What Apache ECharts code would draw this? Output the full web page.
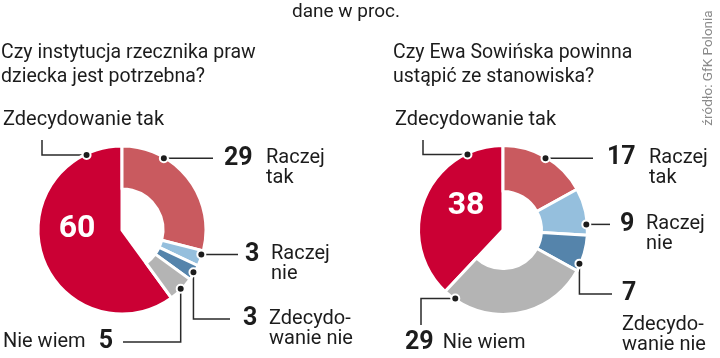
<!DOCTYPE html>
<html><head><meta charset="utf-8">
<script src="https://cdn.jsdelivr.net/npm/echarts@6/dist/echarts.min.js"></script>
<style>html,body{margin:0;padding:0;background:#fff}#c{width:720px;height:358px}</style>
</head><body><div id="c"></div>
<script>
// ---- data ----
const categories = ['Raczej tak', 'Raczej nie', 'Zdecydowanie nie', 'Nie wiem', 'Zdecydowanie tak'];
const labelTexts = ['Raczej\ntak', 'Raczej\nnie', 'Zdecydo-\nwanie nie', 'Nie wiem', 'Zdecydowanie tak'];
const leftValues = [29, 3, 3, 5, 60];
const rightValues = [17, 9, 7, 29, 38];
const leftQuestion = 'Czy instytucja rzecznika praw\ndziecka jest potrzebna?';
const rightQuestion = 'Czy Ewa Sowińska powinna\nustąpić ze stanowiska?';
const unitNote = 'dane w proc.';
const sourceNote = 'źródło: GfK Polonia';

// ---- styles / layout ----
const colors = ['#C95A5F', '#95BFDD', '#5584AB', '#B4B4B4', '#CB0034'];
const INK = '#1c1c1c';
const FONT = 'Roboto';
const NAME_SIZE = 20;
const LH = 20;
const G = [
  { cx: 122, cy: 230, R: 84, r0: 41, big: { x: 77, y: 229 } },
  { cx: 503, cy: 230, R: 84.5, r0: 38.5, big: { x: 466, y: 206 } }
];
const LAYOUT = [
  [
    { frac: 0.29, kind: 'num', path: [[213, null]], tx: 224, ty: null },
    { frac: 0.25, kind: 'num', path: [[238, null]], tx: 245, ty: null },
    { frac: 0.5, kind: 'num', path: [[null, 319], [230, 319]], tx: 243, ty: 319 },
    { frac: 0.5, kind: 'nameNum', path: [[null, 342], [123, 342]], tx: 113, ty: 342 },
    { frac: 0.883, kind: 'name', path: [[42, null], [42, 140]], tx: 3, ty: 120 }
  ],
  [
    { frac: 0.5, kind: 'num', path: [[593, null]], tx: 607, ty: null },
    { frac: 0.77, kind: 'num', path: [[610, null]], tx: 620, ty: null },
    { frac: 0.8, kind: 'stack', path: [[null, 294], [612, 294]], tx: 622, ty: 294 },
    { frac: 0.92, kind: 'numName', path: [[421, null], [421, 325]], tx: 405, ty: 343 },
    { frac: 0.816, kind: 'name', path: [[423, null], [423, 140]], tx: 395, ty: 120 }
  ]
];

const numStyle = { fontFamily: FONT, fontSize: 25, fontWeight: 'bold', color: INK, lineHeight: LH };
const RICH = {
  n: { fontFamily: FONT, fontSize: NAME_SIZE, color: INK, lineHeight: LH },
  v: numStyle,
  v1: Object.assign({}, numStyle, { width: 26 }),
  v2: Object.assign({}, numStyle, { width: 42 }),
  vt: Object.assign({}, numStyle, { lineHeight: 42 }),
  s1: { width: 26, lineHeight: LH },
  s2: { width: 42, lineHeight: LH },
  g: { width: 13 },
  g2: { width: 9 }
};

function total(values) { return values.reduce((a, b) => a + b, 0); }
function dotAngle(values, i, frac) {
  let s = 0;
  for (let k = 0; k < i; k++) s += values[k];
  return s + frac * values[i];
}
function dotPx(g, ang, tot) {
  const a = ang / tot * 2 * Math.PI;
  const r = g.R - 1;
  return [g.cx + r * Math.sin(a), g.cy - r * Math.cos(a)];
}

function labelFormatter(ci) {
  return function (p) {
    const L = LAYOUT[ci][p.dataIndex];
    const parts = labelTexts[p.dataIndex].split('\n');
    const v = p.value;
    const two = String(v).length > 1;
    const w = two ? 'v2' : 'v1', s = two ? 's2' : 's1';
    switch (L.kind) {
      case 'name': return '{n|' + parts.join(' ') + '}';
      case 'num': return '{' + w + '|' + v + '}{n|' + parts[0] + '}' + (parts[1] ? '\n{' + s + '|}{n|' + parts[1] + '}' : '');
      case 'stack': return '{vt|' + v + '}\n' + parts.map(t => '{n|' + t + '}').join('\n');
      case 'nameNum': return '{n|' + parts[0] + '}{g|}{v|' + v + '}';
      case 'numName': return '{v|' + v + '}{g2|}{n|' + parts[0] + '}';
    }
  };
}
function labelLayoutFor(ci, values) {
  const tot = total(values);
  return function (p) {
    const L = LAYOUT[ci][p.dataIndex];
    const d = dotPx(G[ci], dotAngle(values, p.dataIndex, L.frac), tot);
    const pts = [d].concat(L.path.map(q => [q[0] == null ? d[0] : q[0], q[1] == null ? d[1] : q[1]]));
    const ty = L.ty == null ? d[1] : L.ty;
    let y, va = 'top';
    const align = L.kind === 'nameNum' ? 'right' : 'left';
    if (L.kind === 'name') { y = ty; va = 'middle'; }
    else if (L.kind === 'stack') { y = ty - 21; }
    else { y = ty - LH / 2; }
    return { x: L.tx, y: y, align: align, verticalAlign: va, labelLinePoints: pts };
  };
}

function fullPie(ci, values) {
  const g = G[ci];
  return {
    type: 'pie', radius: [0, g.R], center: [g.cx, g.cy], startAngle: 90, clockwise: true,
    silent: true, animation: false, avoidLabelOverlap: false,
    itemStyle: { borderColor: '#fff', borderWidth: 3 },
    label: { show: false },
    labelLine: { show: false },
    data: values.map((v, i) => i === 4
      ? { name: categories[i], value: v, itemStyle: { color: colors[i] },
          label: { show: true, position: 'inside', formatter: '{c}', color: '#fff', fontSize: 32, fontWeight: 'bold', fontFamily: FONT } }
      : { name: categories[i], value: v, itemStyle: { color: 'transparent', borderWidth: 0 } }),
    labelLayout: function (p) {
      return p.dataIndex === 4 ? { x: g.big.x, y: g.big.y, align: 'center', verticalAlign: 'middle' } : {};
    }
  };
}
function donut(ci, values) {
  const g = G[ci];
  return {
    type: 'pie', radius: [g.r0, g.R], center: [g.cx, g.cy], startAngle: 90, clockwise: true,
    silent: true, animation: false, avoidLabelOverlap: false,
    itemStyle: { borderColor: '#fff', borderWidth: 3 },
    label: { show: true, position: 'outside', formatter: labelFormatter(ci), rich: RICH, color: INK, overflow: 'none' },
    labelLine: { show: true, length: 10, length2: 10, smooth: false, lineStyle: { color: '#2a2a2a', width: 1.5 } },
    labelLayout: labelLayoutFor(ci, values),
    data: values.map((v, i) => ({
      name: categories[i], value: v,
      itemStyle: i === 4 ? { color: 'transparent', borderWidth: 0 } : { color: colors[i] }
    }))
  };
}
function dots(ci, values) {
  const g = G[ci];
  return {
    type: 'scatter', coordinateSystem: 'polar', polarIndex: ci, silent: true, animation: false, z: 5,
    symbol: 'circle', symbolSize: 8,
    itemStyle: { color: INK, borderColor: '#fff', borderWidth: 2, opacity: 1 },
    data: values.map((v, i) => [g.R - 1, dotAngle(values, i, LAYOUT[ci][i].frac)])
  };
}

const chart = echarts.init(document.getElementById('c'), null, { renderer: 'canvas' });
chart.setOption({
  backgroundColor: '#fff',
  animation: false,
  polar: G.map(g => ({ center: [g.cx, g.cy], radius: g.R })),
  angleAxis: [0, 1].map(i => ({ polarIndex: i, type: 'value', min: 0, max: total(i ? rightValues : leftValues), startAngle: 90, clockwise: true, show: false })),
  radiusAxis: G.map((g, i) => ({ polarIndex: i, type: 'value', min: 0, max: g.R, show: false })),
  graphic: [
    { type: 'text', x: 346, y: 12, style: { text: unitNote, fontSize: 19, fontFamily: FONT, fill: INK, align: 'center', verticalAlign: 'middle' } },
    { type: 'text', x: 1, y: 40.5, style: { text: leftQuestion, fontSize: 19.5, fontFamily: FONT, fill: INK, lineHeight: 24.5, align: 'left', verticalAlign: 'top' } },
    { type: 'text', x: 393, y: 40.5, style: { text: rightQuestion, fontSize: 19.5, fontFamily: FONT, fill: INK, lineHeight: 24.5, align: 'left', verticalAlign: 'top' } },
    { type: 'text', x: 709, y: 68, rotation: Math.PI / 2, style: { text: sourceNote, fontSize: 13.5, fontFamily: FONT, fill: '#8a8a8a', align: 'center', verticalAlign: 'middle' } }
  ],
  series: [
    fullPie(0, leftValues), donut(0, leftValues), dots(0, leftValues),
    fullPie(1, rightValues), donut(1, rightValues), dots(1, rightValues)
  ]
});
</script>
</body></html>
